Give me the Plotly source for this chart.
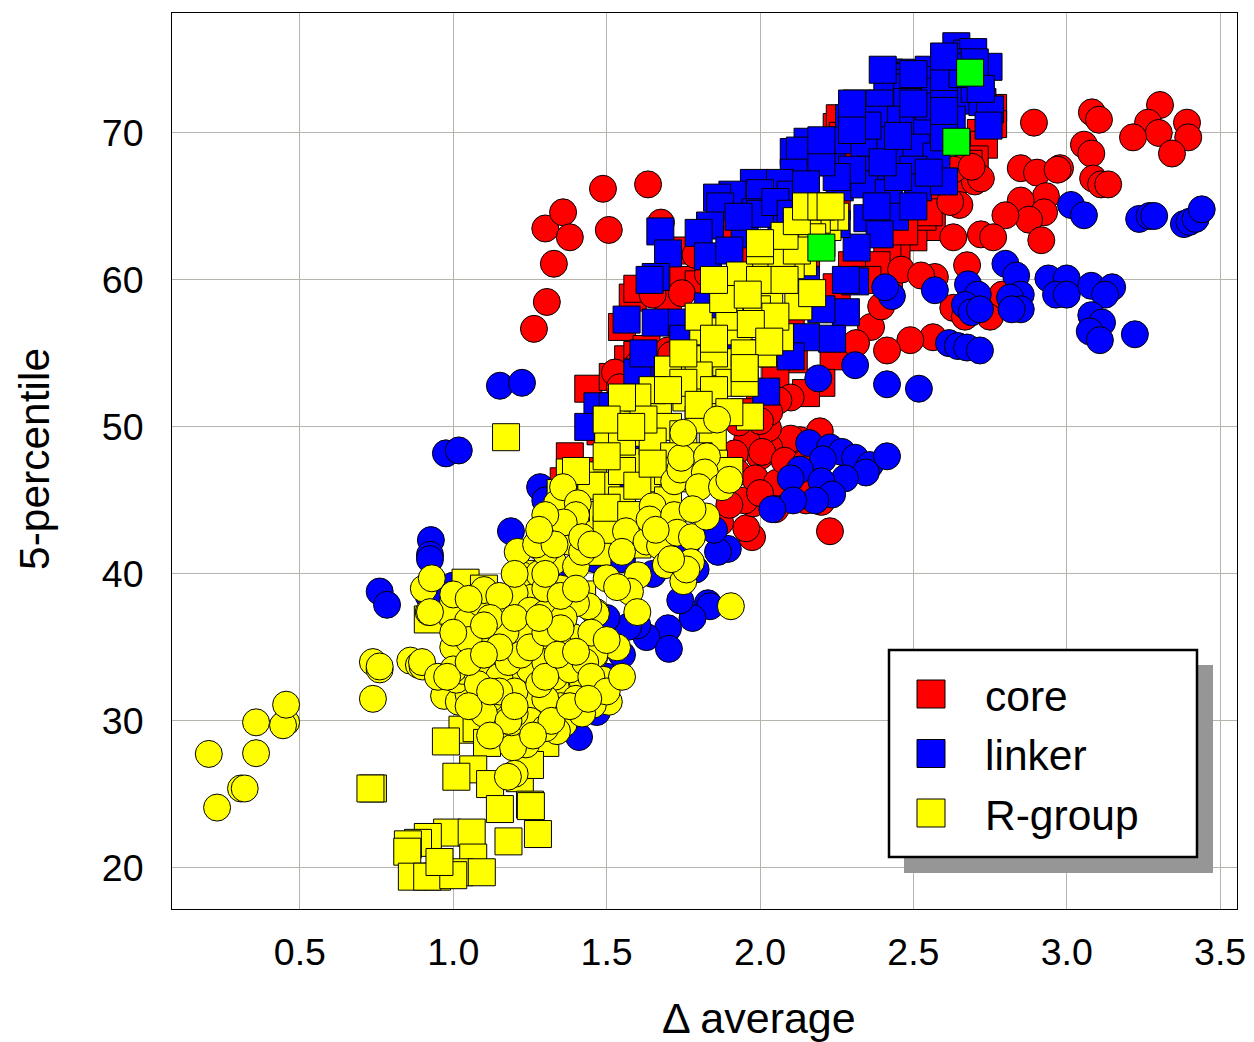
import plotly.graph_objects as go

core_squares = [(2.25,70.4),(2.26,71),(2.27,69.8),(2.72,70),(2.76,71.7),(2.73,69.2),(2.76,70.6),(2.7,68.2),(2.68,67.9),(2.59,66.1),
(2.56,63.6),(2.5,62.9),(2.53,64.3),(2.445,62.2),(2.415,61.6),(2.545,65.6),(2.55,64.6),(2.47,63.3),(2.42,60.3),(2.38,61),(2.3,61),(2.35,60),
(2.25,59.5),(2.24,54.8),(2.11,54.6),(2.2,53),(2.05,53.5),(2.15,52.3),(2.07,65),(1.92,63.4),(1.72,62),(1.75,60),(1.8,59.7),(1.7,58.5),
(1.585,58.8),(1.6,59.4),(1.55,56.8),(1.57,54.6),(1.44,52.6),(1.52,53.4),(1.6,54.9),(1.63,55.3),(1.48,49.7),(1.38,48),(1.36,46.3),(1.43,47),
(1.5,51),(1.55,50),(1.75,55),(1.85,56),(2.0,55),(2.0,52),(1.95,51),(2.1,57),(2.0,59),(1.95,62),(2.15,61),(2.25,65),(2.4,66),(2.55,69),(2.62,71),(2.3,69),(2.4,72)]

core_circles = [(1.263,56.67),(1.305,58.5),(1.328,61.1),(1.30,63.5),(1.358,64.6),(1.38,62.9),(1.488,66.2),(1.507,63.4),(1.635,66.5),(1.677,63.9),
(2.893,70.7),(3.082,71.4),(3.105,70.9),(3.304,71.9),(3.392,70.7),(3.265,70.7),(3.3,70),(3.216,69.7),(3.396,69.7),(3.343,68.6),(3.056,69.2),(3.08,68.6),
(2.85,67.6),(2.903,67.3),(2.978,67.6),(2.97,67.5),(3.086,66.9),(3.112,66.5),(3.135,66.5),(2.932,65.7),(2.85,65.4),(2.926,64.6),(2.877,64.1),(2.80,64.4),
(2.917,62.7),(2.72,63.1),(2.76,62.9),(2.63,62.9),(2.675,61),(2.66,66.8),(2.65,65.1),(2.7,66.7),(2.72,66.9),(2.63,67.5),(2.69,67.7),(2.62,65.3),
(2.46,60.7),(2.57,60.2),(2.525,60.3),(2.564,56.1),(2.49,55.9),(2.414,55.2),(2.362,56.8),(2.395,58.2),(2.313,55.7),(2.668,58.1),(2.63,58.1),(2.668,57.5),(2.75,57.5),(2.79,59),
(1.79,61.7),(1.83,60.4),(1.745,59.1),(1.65,59),(1.6,54.2),(1.527,53.7),(1.543,52.7),(1.7,55.2),(1.71,54.9),(1.9,56.8),(1.85,59.5),
(2.228,42.9),(1.974,42.5),(2.195,49.7),(2.1,52),(2.13,49.1),(2.1,49.2),(2.03,48.6),(2.0,48),(1.955,43.1),(1.977,44.8),(1.95,45),(2.026,49.9),(1.957,49),(2.007,48.3),
(1.918,48.2),(1.925,46.9),(1.984,46.5),(2.055,46.2),(1.87,43.5),(2.06,51.8),(2.15,45),(2.2,44.9),(2.08,47.7),(2.13,46.2),(2.15,47.6),(2.05,44.4),(2.0,45.5),(1.9,44.7),(2.03,51),(2.0,50.4),(1.93,50.3)]

linker_circles = [(3.014,65.1),(3.056,64.4),(3.236,64.15),(3.27,64.35),(3.285,64.35),(3.382,63.8),(3.40,63.95),(3.42,64.15),(3.44,64.8),
(2.80,61.1),(2.835,60.3),(2.94,60.1),(3.0,60.1),(2.965,59),(3.0,59),(3.08,59.6),(3.148,59.5),(3.125,59),(2.85,59),(2.815,58.8),(2.85,58),(2.82,58),
(3.08,57.6),(3.115,57.1),(3.075,56.5),(3.108,55.9),(3.222,56.3),(2.616,55.7),(2.645,55.5),(2.675,55.4),(2.717,55.2),
(2.678,59.7),(2.71,59),(2.668,58.3),(2.69,57.8),(2.717,58),(2.43,58.9),(2.408,59.5),(2.57,59.3),(2.31,54.2),(2.19,53.3),(2.414,52.9),(2.518,52.6),
(1.152,52.8),(1.224,53),(0.976,48.2),(1.018,48.4),(1.283,45.9),(1.188,42.9),(0.927,42.3),(0.924,41.3),(0.924,41),(0.76,38.8),(0.784,37.9),
(2.16,48.9),(2.228,48.6),(2.267,48.3),(2.31,47.9),(2.358,47.4),(2.414,48),(2.205,47.8),(2.345,46.9),(2.277,46.5),(2.13,47.1),(2.1,46.5),(2.2,46.3),(2.235,45.4),(2.18,45),(2.108,45),(2.04,44.4),
(1.895,41.7),(1.863,41.5),(1.85,43),(1.76,40),(1.83,38),(1.837,37.8),(1.78,37),(1.7,36.3),(1.63,35.7),(1.703,34.9),(1.6,36.5),(1.74,38.2),(1.79,40.3),(1.76,42),
(1.41,28.9),(1.468,30.6),(1.5,33),(1.55,34.5),(1.57,36.4),(1.5,37),(1.43,38),(1.38,40),(1.46,41),(1.55,41),(1.65,40),(1.4,43),(1.3,43.5),(1.48,35),(1.32,38),(0.92,38.5),(1.0,39.2),(1.3,45)]

linker_squares = [(2.64,75.9),(2.675,75.4),(2.695,75.5),(2.745,74.5),(2.62,74.8),(2.635,74.5),(2.55,74.3),(2.42,74.1),(2.46,74.1),(2.435,73.9),(2.445,73.8),(2.415,73.4),(2.545,73.6),
(2.57,72.8),(2.65,72.2),(2.725,72.1),(2.75,71.6),(2.745,70.5),(2.48,73.1),(2.315,72),(2.39,72),(2.48,72.1),(2.29,71),(2.385,70.9),(2.46,70.9),(2.5,70.7),(2.545,70.4),(2.625,70.9),
(2.155,69.4),(2.11,68.7),(2.13,68.8),(2.235,68),(2.27,69.5),(2.36,69),(2.34,69.3),(2.425,69.5),(2.465,68.4),(2.51,69),(2.575,68.4),(2.36,67.5),(2.5,67.5),(2.11,67.3),
(1.98,66.6),(2.065,66.6),(1.91,65.8),(1.86,65.6),(1.87,65),(2.0,65.9),(2.1,65.8),(2.26,66.3),(2.34,66.5),(2.42,65.9),(2.515,66.3),(1.985,64.6),(1.837,63.7),(1.8,63.2),(1.95,63.1),
(1.675,63.3),(1.7,61.8),(1.83,61.6),(1.66,60.2),(1.64,60),(1.565,57.3),(1.66,57.1),(1.745,57.1),(2.35,64.2),(2.44,64.3),(2.39,63.1),(2.315,62.2),(2.31,59.9),(2.28,60),(2.28,57.8),(2.235,56),
(2.2,58),(1.87,59.8),(2.07,63.5),(2.15,56.1),(2.1,54.8),(1.61,53.7),(1.76,54.8),(1.83,58.2),(2.0,64.5),(2.2,65),(2.3,67.5),(2.45,67),(2.6,66.7),(2.05,62.5),(2.2,62.5),(2.55,71.8),(2.6,73),(2.7,73),(2.6,69.7),(2.4,68),
(1.47,51.4),(1.44,50),(1.52,51.4),(1.6,53.7),(2.02,52.4),(1.62,55),(1.58,48),(1.55,46),(1.75,56),(1.9,55),(2.0,57),(1.95,60),(1.9,62),(2.15,60),(2.25,63.8),(2.1,63),
(2.4,74.3),(2.5,74),(2.6,73.8),(2.66,74),(2.6,75.2),(2.7,74.8),(2.72,73),(2.6,71.5),(2.5,72),(2.35,70.5),(2.3,70.2),(2.45,69.8),(2.55,67.3),(2.25,67),(2.2,68),(2.05,65.3),(1.93,64.3),(2.1,64.5),(2.5,65),(2.38,65),(2.15,66.5),(2.2,69.5),(2.3,72)]

rgroup_squares = [(1.172,49.3),(0.738,25.4),(0.73,25.4),(1.03,29.4),(1.076,29.5),(0.976,28.6),(1.11,28.5),(1.065,26.7),(1.01,26.2),(1.12,25.7),(1.217,26.1),(1.152,24),(1.25,24.3),(1.253,24.2),
(1.18,21.8),(1.276,22.3),(0.98,22.4),(1.06,22.4),(0.917,22.1),(0.885,21.7),(0.852,21.6),(0.85,21.1),(1.065,20.7),(1.02,19.7),(1.093,19.7),(0.865,19.4),(0.947,19.4),(0.915,19.4),(1.0,19.5),(0.955,20.4),
(0.917,36.9),(1.04,39.4),(1.42,38.6),(1.47,41.5),(1.543,43.4),(1.455,46.7),(1.63,46.5),(1.586,47.6),(1.505,49.1),(1.57,51.3),(1.667,51.3),(1.706,53.5),(1.76,52),(1.817,52),(1.967,50.7),(1.846,49.3),(1.6,49.6),(1.7,50),(1.38,46.9),
(1.935,60.3),(2.03,59),(2.14,61.2),(2.22,63.6),(2.245,64.3),(2.21,64.3),(2.185,64.1),(2.155,63.2),(2.02,61.2),(2.1,61),(1.815,56.5),(1.93,56.5),(1.99,58),(2.125,58.2),(2.065,56.1),(1.89,54.4),(1.765,54.6),(1.70,53.9),(2.01,55),(2.17,59.1),(2.07,61.8),(2.17,62.9),
(1.9,57.5),(2.0,60),(2.08,60),(2.12,62),(1.95,55),(1.85,55),(1.8,53.5),(1.9,53),(1.95,53),(1.75,55),(1.65,52.5),(1.6,52),(1.55,49),(1.65,49),(1.75,49.5),(1.8,50.5),(1.72,48),(1.8,48),(1.85,47.5),(1.9,47),(1.5,46),(1.55,47),
(1.45,44),(1.55,45),(1.65,44),(1.7,45),(1.4,44.5),(1.35,45.5),(1.5,43),(1.6,42),(1.3,42),(1.25,40),(1.1,39),(1.0,37.5),(1.2,33),(1.35,32),(1.05,33),(1.1,31),(1.2,29),(1.3,28.5),(1.25,27),(1.15,31),
(1.8,57.5),(1.85,56),(1.88,58.7),(1.96,59),(2.05,57.5),(1.97,57),(2.03,55.8),(2.0,62),(2.08,63),(2.12,64),(2.15,65),(2.2,65),(2.23,65),(1.75,53),(1.7,52.5),(1.62,50.5),(1.55,52),(1.5,50.5),(1.95,54),(1.85,52.5),(1.9,51),(1.7,47),(1.75,46.5),(1.6,46),(1.45,46),(1.5,48),(1.4,47),(1.5,44.5),(1.58,44),(1.65,47.5),(1.8,51.5),(1.58,50),(1.85,60),(2.0,62.5)]

rgroup_circles = [(0.203,27.75),(0.23,24.1),(0.308,25.4),(0.32,25.4),(0.357,27.8),(0.357,29.9),(0.455,29.9),(0.445,29.7),(0.455,31.1),(0.738,34),(0.76,33.5),(0.76,33.7),(0.738,31.5),(0.86,34.1),(0.888,33.8),(0.9,33.7),
(0.97,31.7),(1.018,31.3),(1.05,31.8),(1.01,32.8),(1.03,33.4),(1.067,33.6),(1.136,34.7),(1.217,33.9),(1.12,35.6),(1.048,36.8),(1.152,37.4),(0.92,37.4),(1.39,35.7),(1.465,37.4),(1.46,34.4),(1.42,32.5),(1.507,31.3),(1.455,31.1),
(1.36,29.8),(1.338,29.3),(1.276,30.3),(1.243,31.2),(1.237,28.4),(1.195,28.2),(1.2,26.4),(1.178,26.2),(1.19,29.9),(1.273,32.8),(1.185,32.7),(0.898,34),(1.488,32.8),(1.534,35),(1.42,32.8),
(0.904,39),(0.924,37.4),(0.93,39.7),(1.0,38.6),(1.09,38),(1.155,37.4),(1.224,39.9),(1.21,41.5),(1.26,38.4),(1.325,40.8),(1.375,42.2),(1.305,43.5),(1.338,44.8),(1.358,45.9),(1.406,44.8),(1.38,43.5),
(1.563,42.9),(1.63,42.2),(1.674,41.9),(1.65,44.6),(1.64,43.7),(1.72,44),(1.73,42.8),(1.778,42.5),(1.693,40.6),(1.775,40.8),(1.75,39.5),(1.76,40.3),(1.72,46.3),(1.74,47.1),(1.743,47.9),(1.75,49.6),(1.86,50.5),(1.827,48),(1.82,46.9),
(1.80,45.9),(1.876,45.9),(1.9,46.4),(1.825,43.9),(1.78,44.4),(1.905,37.8),(1.602,39.9),(1.5,39.7),(1.576,38.8),(1.534,39.1),(1.465,37.3),(1.44,37.8),(1.6,37.4),(1.39,35.7),(1.46,34.5),(1.136,34.8),(1.348,36.4),
(1.1,38.9),(1.2,38.7),(1.15,38.5),(1.05,38.3),(1.25,37.5),(1.3,37.3),(1.35,35),(1.28,35.5),(1.22,36),(1.17,36),(1.08,35),(1.0,35),(1.05,35.5),(1.1,33),(1.15,33),(1.2,32),(1.25,33.5),(1.3,34),(1.33,33),(1.38,33.5),(1.43,34),(1.4,31.5),(1.35,31),(1.3,31.5),(1.12,31.5),(1.1,30.5),(1.25,30),(1.3,29.5),
(1.18,34),(1.12,37),(1.22,34.5),(1.28,32.5),(0.95,33),(1.0,33.5),(1.08,32.5),(1.2,30.5),(1.15,32),(1.45,36),(1.5,35.5),(1.35,39),(1.4,40.5),(1.28,40),(1.2,40),(1.3,41.5),(1.42,41.5),(1.55,41.5),(1.66,43),(1.71,41),(1.3,39),(1.27,42),
(1.0,36),(1.1,36.5),(1.2,37),(1.3,36.5),(1.4,38),(1.36,37),(1.15,35),(1.25,35),(1.3,36),(1.35,36.3),(1.45,33),(1.5,32),(1.42,30.5),(1.32,30),(1.26,29),(1.18,30),(1.12,29),(1.05,31),(0.98,33),(1.05,34),(1.1,34.5),(1.12,32),(1.2,31),(1.3,33),(1.38,31),(1.44,31.5),(1.34,34.5),(1.4,34.7),(1.55,33),(1.28,37),(1.35,38.5),(1.3,40),(1.4,39),
(1.4,44),(1.36,43.5),(1.42,42.5),(1.45,42),(1.3,44),(1.33,42),(1.28,43)]

hit_squares = [(2.685,74.1),(2.64,69.4),(2.2,62.2)]

legend_labels = ["core", "linker", "R-group"]
legend_colors = ["#ff0000", "#0000ff", "#ffff00"]
x_ticks = [0.5, 1.0, 1.5, 2.0, 2.5, 3.0, 3.5]
y_ticks = [20, 30, 40, 50, 60, 70]

FONT = "Liberation Sans, Arial, sans-serif"

def add(points, color, symbol, name):
    fig.add_trace(go.Scatter(
        x=[p[0] for p in points], y=[p[1] for p in points], mode="markers", name=name,
        marker=dict(color=color, symbol=symbol, size=27, line=dict(color="#000000", width=1)),
        showlegend=False, hoverinfo="skip"))

fig = go.Figure()
add(core_squares, "#ff0000", "square", "core")
add(core_circles, "#ff0000", "circle", "core")
add(linker_circles, "#0000ff", "circle", "linker")
add(linker_squares, "#0000ff", "square", "linker")
add(rgroup_squares, "#ffff00", "square", "R-group")
add(rgroup_circles, "#ffff00", "circle", "R-group")
add(hit_squares, "#00ff00", "square", "hit")

PW, PH, L, T = 1065.0, 896.0, 172.0, 13.0
def px(v): return (v - L) / PW
def py(v): return (T + PH - v) / PH

shapes = [
    dict(type="rect", xref="paper", yref="paper", x0=px(904), x1=px(1213), y0=py(873), y1=py(665),
         fillcolor="#969696", line=dict(width=0), layer="above"),
    dict(type="rect", xref="paper", yref="paper", x0=px(889), x1=px(1197), y0=py(857), y1=py(650),
         fillcolor="#ffffff", line=dict(color="#000000", width=2.5), layer="above"),
]
annotations = [
    dict(xref="paper", yref="paper", x=px(759), y=py(1018), text="Δ average", showarrow=False,
         xanchor="center", yanchor="middle", font=dict(family=FONT, size=43, color="#000000")),
    dict(xref="paper", yref="paper", x=px(35), y=py(459), text="5-percentile", showarrow=False, textangle=-90,
         xanchor="center", yanchor="middle", font=dict(family=FONT, size=42.5, color="#000000")),
]
for i, (lab, col) in enumerate(zip(legend_labels, legend_colors)):
    cy = 694 + i * 59.5
    shapes.append(dict(type="rect", xref="paper", yref="paper", x0=px(917), x1=px(945),
                       y0=py(cy + 14), y1=py(cy - 14), fillcolor=col,
                       line=dict(color="#000000", width=1), layer="above"))
    annotations.append(dict(xref="paper", yref="paper", x=px(983), y=py(cy + 2), text=lab, showarrow=False,
                            xanchor="left", yanchor="middle", font=dict(family=FONT, size=42.5, color="#000000")))

fig.update_layout(
    width=1254, height=1042, margin=dict(l=172, r=17, t=13, b=133, autoexpand=False),
    paper_bgcolor="#ffffff", plot_bgcolor="#ffffff", showlegend=False,
    font=dict(family=FONT, color="#000000"), shapes=shapes, annotations=annotations,
    xaxis=dict(range=[0.083, 3.555], tickvals=x_ticks, ticktext=[f"{v:.1f}" for v in x_ticks],
               showgrid=True, gridcolor="#b4b4ac", gridwidth=1, zeroline=False, showline=True, mirror=True,
               linecolor="#000000", linewidth=1, ticks="", ticklabelstandoff=10, tickfont=dict(size=37.5)),
    yaxis=dict(range=[17.2, 78.16], tickvals=y_ticks, showgrid=True, gridcolor="#b4b4ac", gridwidth=1,
               zeroline=False, showline=True, mirror=True, linecolor="#000000", linewidth=1, ticks="",
               ticklabelstandoff=20, tickfont=dict(size=37.5)),
)
fig.write_html("out.html", config={"displayModeBar": False}, post_script="document.body.style.margin='0';")
